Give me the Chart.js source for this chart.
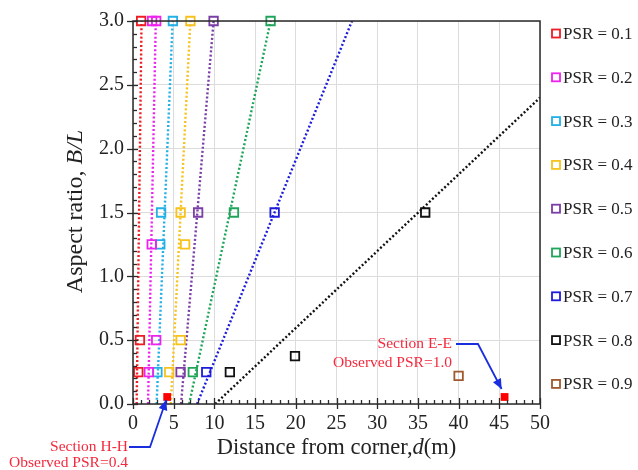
<!DOCTYPE html>
<html>
<head>
<meta charset="utf-8">
<script src="https://cdn.jsdelivr.net/npm/chart.js@4.4.1/dist/chart.umd.min.js"></script>
<style>
  html, body { margin: 0; padding: 0; background: #fff; }
  #wrap { width: 638px; height: 470px; }
</style>
</head>
<body>
<div id="wrap"><canvas id="grafico" width="638" height="470"></canvas></div>
<script>
// === DATOS ===
const seriesLabels = ["PSR = 0.1", "PSR = 0.2", "PSR = 0.3", "PSR = 0.4", "PSR = 0.5",
                      "PSR = 0.6", "PSR = 0.7", "PSR = 0.8", "PSR = 0.9"];

// puntos (distancia d, relación B/L)
const psr01X = [1.0, 0.85, 0.65];            const psr01Y = [3.0, 0.5, 0.25];
const psr02X = [2.35, 2.85, 2.3, 2.85, 1.95]; const psr02Y = [3.0, 3.0, 1.25, 0.5, 0.25];
const psr03X = [4.9, 3.45, 3.35, 3.0];       const psr03Y = [3.0, 1.5, 1.25, 0.25];
const psr04X = [7.05, 5.85, 6.4, 5.85, 4.45]; const psr04Y = [3.0, 1.5, 1.25, 0.5, 0.25];
const psr05X = [9.9, 8.0, 5.85];             const psr05Y = [3.0, 1.5, 0.25];
const psr06X = [16.9, 12.4, 7.35];           const psr06Y = [3.0, 1.5, 0.25];
const psr07X = [17.4, 9.0];                  const psr07Y = [1.5, 0.25];
const psr08X = [35.9, 19.9, 11.9];           const psr08Y = [1.5, 0.375, 0.25];
const psr09X = [40.0];                       const psr09Y = [0.22];

// líneas de tendencia (extremos)
const lineaX = [[0.45, 1.05], [1.85, 2.8], [2.9, 4.87], [4.65, 7.05], [5.9, 9.9],
                [6.9, 16.9], [7.87, 26.9], [10.1, 50]];
const lineaY = [[0, 3], [0, 3], [0, 3], [0, 3], [0, 3], [0, 3], [0, 3], [0, 2.4]];

// secciones observadas (H-H, E-E)
const observadoX = [4.2, 45.65];
const observadoY = [0.055, 0.055];

const xTicks = [0, 5, 10, 15, 20, 25, 30, 35, 40, 45, 50];
const yTicks = [0, 0.5, 1.0, 1.5, 2.0, 2.5, 3.0];

// === ESTILO ===
const FUENTE = "'Liberation Serif', 'Times New Roman', serif";
const colores = ["#ee1c24", "#ee22ee", "#22b0e6", "#f6c21c", "#7a3ea6",
                 "#1fa55a", "#1c1cdc", "#111111", "#a0582c"];
const rojoTexto = "#f5283c";
const azulFlecha = "#1a2ee0";

const marcadoresX = [psr01X, psr02X, psr03X, psr04X, psr05X, psr06X, psr07X, psr08X, psr09X];
const marcadoresY = [psr01Y, psr02Y, psr03Y, psr04Y, psr05Y, psr06Y, psr07Y, psr08Y, psr09Y];

const pares = (xs, ys) => xs.map((v, i) => ({ x: v, y: ys[i] }));

const datasets = [];
datasets.push({
    label: "Observed",
    data: pares(observadoX, observadoY),
    pointStyle: "rect",
    pointRadius: 5.5,
    borderWidth: 0,
    backgroundColor: "#ff0000",
    borderColor: "#ff0000",
    showLine: false,
    clip: false
});
marcadoresX.forEach((xs, i) => {
    datasets.push({
        label: seriesLabels[i],
        data: pares(xs, marcadoresY[i]),
        pointStyle: "rect",
        pointRadius: 6,
        pointBorderWidth: 1.8,
        borderColor: colores[i],
        backgroundColor: "rgba(0,0,0,0)",
        showLine: false,
        clip: false
    });
});
lineaX.forEach((xs, i) => {
    datasets.push({
        label: "",
        data: pares(xs, lineaY[i]),
        showLine: true,
        pointRadius: 0,
        borderColor: colores[i],
        borderWidth: 2.4,
        borderDash: [2, 2.2],
        fill: false
    });
});

// === TEXTO MIXTO (cursiva parcial) ===
function textoMixto(ctx, partes, cx, cy) {
    let total = 0;
    partes.forEach(p => { ctx.font = p.f; p.w = ctx.measureText(p.t).width; total += p.w; });
    let xx = cx - total / 2;
    partes.forEach(p => { ctx.font = p.f; ctx.fillText(p.t, xx, cy); xx += p.w; });
}

function linea(ctx, x1, y1, x2, y2) {
    ctx.beginPath(); ctx.moveTo(x1, y1); ctx.lineTo(x2, y2); ctx.stroke();
}

function flecha(ctx, puntos) {
    ctx.strokeStyle = azulFlecha;
    ctx.fillStyle = azulFlecha;
    ctx.lineWidth = 1.8;
    ctx.beginPath();
    ctx.moveTo(puntos[0][0], puntos[0][1]);
    for (let i = 1; i < puntos.length; i++) ctx.lineTo(puntos[i][0], puntos[i][1]);
    ctx.stroke();
    const [ax, ay] = puntos[puntos.length - 2];
    const [bx, by] = puntos[puntos.length - 1];
    const ang = Math.atan2(by - ay, bx - ax);
    const L = 10, W = 4.5;
    ctx.beginPath();
    ctx.moveTo(bx, by);
    ctx.lineTo(bx - L * Math.cos(ang) + W * Math.sin(ang), by - L * Math.sin(ang) - W * Math.cos(ang));
    ctx.lineTo(bx - L * Math.cos(ang) - W * Math.sin(ang), by - L * Math.sin(ang) + W * Math.cos(ang));
    ctx.closePath();
    ctx.fill();
}

const marcoPlugin = {
    id: "marco",
    afterDraw(chart) {
        const { ctx, chartArea: a, scales: { x, y } } = chart;
        ctx.save();

        // marco
        ctx.strokeStyle = "#2a2a2a";
        ctx.lineWidth = 1.5;
        ctx.strokeRect(a.left, a.top, a.right - a.left, a.bottom - a.top);

        // ticks del eje x
        ctx.lineWidth = 1.3;
        for (let v = 0; v <= 50; v += 1) {
            const px = Math.round(x.getPixelForValue(v)) + 0.5;
            if (v % 5 === 0) linea(ctx, px, a.bottom - 6, px, a.bottom + 5);
            else linea(ctx, px, a.bottom - 4, px, a.bottom);
        }
        // ticks del eje y
        for (let k = 0; k <= 30; k++) {
            const py = Math.round(y.getPixelForValue(k / 10)) + 0.5;
            if (k % 5 === 0) linea(ctx, a.left - 6, py, a.left + 5, py);
            else linea(ctx, a.left, py, a.left + 4, py);
        }

        // títulos de ejes
        ctx.fillStyle = "#222";
        ctx.textBaseline = "middle";
        ctx.textAlign = "left";
        const normal = "22.5px " + FUENTE, italica = "italic 22.5px " + FUENTE;
        textoMixto(ctx, [
            { t: "Distance from corner,", f: normal },
            { t: "d", f: italica },
            { t: "(m)", f: normal }
        ], (a.left + a.right) / 2, 448);
        ctx.save();
        ctx.translate(76, 211.5);
        ctx.rotate(-Math.PI / 2);
        textoMixto(ctx, [
            { t: "Aspect ratio, ", f: "24px " + FUENTE },
            { t: "B/L", f: "italic 24px " + FUENTE }
        ], 0, 0);
        ctx.restore();

        // leyenda
        ctx.font = "17px " + FUENTE;
        for (let i = 0; i < seriesLabels.length; i++) {
            const cy = 33.5 + i * 43.8;
            ctx.strokeStyle = colores[i];
            ctx.lineWidth = 1.8;
            ctx.strokeRect(552, cy - 4, 8, 8);
            ctx.fillStyle = "#222";
            ctx.fillText(chart.data.datasets[i + 1].label, 563, cy + 1);
        }

        // anotaciones
        const hx = x.getPixelForValue(observadoX[0]), hy = y.getPixelForValue(observadoY[0]);
        const ex = x.getPixelForValue(observadoX[1]), ey = y.getPixelForValue(observadoY[1]);
        ctx.font = "15.5px " + FUENTE;
        ctx.fillStyle = rojoTexto;
        ctx.textAlign = "right";
        ctx.fillText("Section H-H", 128, 447);
        ctx.fillText("Observed PSR=0.4", 128, 463);
        ctx.fillText("Section E-E", 452, 344);
        ctx.fillText("Observed PSR=1.0", 452, 363);
        flecha(ctx, [[129, 447], [150, 447], [hx - 1, hy + 3]]);
        flecha(ctx, [[456, 344], [478, 344], [ex - 3, ey - 8]]);

        ctx.restore();
    }
};

new Chart(document.getElementById("grafico"), {
    type: "scatter",
    data: { datasets },
    options: {
        responsive: false,
        animation: false,
        events: [],
        layout: { padding: { top: 21, right: 98, left: 0, bottom: 0 } },
        plugins: { legend: { display: false }, tooltip: { enabled: false } },
        scales: {
            x: {
                type: "linear", min: 0, max: 50,
                afterBuildTicks: s => { s.ticks = xTicks.map(v => ({ value: v })); },
                afterFit: s => { s.height = 66; },
                grid: { color: "#dcdcdc", lineWidth: 1, drawTicks: false },
                border: { display: false },
                ticks: { color: "#222", padding: 8, font: { family: FUENTE, size: 20 } }
            },
            y: {
                type: "linear", min: 0, max: 3,
                afterBuildTicks: s => { s.ticks = yTicks.map(v => ({ value: v })); },
                afterFit: s => { s.width = 133; },
                grid: { color: "#dcdcdc", lineWidth: 1, drawTicks: false },
                border: { display: false },
                ticks: {
                    color: "#222", padding: 9, font: { family: FUENTE, size: 20 },
                    callback: v => Number(v).toFixed(1)
                }
            }
        }
    },
    plugins: [marcoPlugin]
});
</script>
</body>
</html>
